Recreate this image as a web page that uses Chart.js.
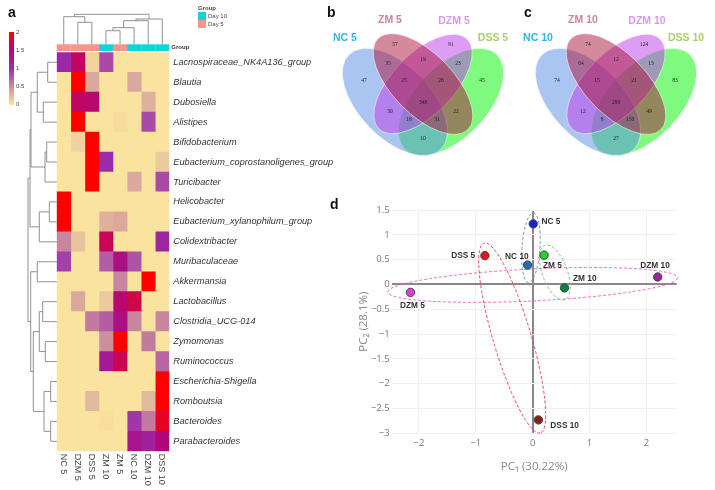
<!DOCTYPE html>
<html>
<head>
<meta charset="utf-8">
<title>Heatmap, Venn and PCA</title>
<script src="https://cdn.jsdelivr.net/npm/chart.js@4"></script>
<style>
  html, body { margin: 0; padding: 0; background: #fff; }
  #page { position: relative; width: 715px; height: 490px; overflow: hidden; background: #fff; font-family: "Liberation Sans", Arial, sans-serif; filter: blur(0.35px); }
  canvas { position: absolute; }
  .panel { position: absolute; font-weight: bold; font-size: 14px; color: #111; line-height: 14px; }
  .small { position: absolute; font-size: 6px; line-height: 6px; color: #444; }
  .swatch { position: absolute; left: 198px; width: 8px; height: 8px; }
  #colorbar { position: absolute; left: 9px; top: 32px; width: 5px; height: 73px; }
</style>
</head>
<body>
<div id="page">
  <canvas id="heat" width="345" height="490" style="left:0;top:0"></canvas>
  <canvas id="vennB" width="200" height="170" style="left:322.7px;top:0"></canvas>
  <canvas id="vennC" width="200" height="170" style="left:515.7px;top:0"></canvas>
  <canvas id="pca" width="385" height="300" style="left:330px;top:190px"></canvas>

  <div class="panel" style="left:8px;top:5px">a</div>
  <div class="panel" style="left:327px;top:5px">b</div>
  <div class="panel" style="left:524px;top:5px">c</div>
  <div class="panel" style="left:330px;top:197px">d</div>

  <div class="small" style="left:198px;top:5px;font-weight:bold">Group</div>
  <div class="swatch" style="top:12px;background:#10d5d8"></div>
  <div class="swatch" style="top:20px;background:#fa9488"></div>
  <div class="small" style="left:208px;top:13px">Day 10</div>
  <div class="small" style="left:208px;top:21px">Day 5</div>

  <div id="colorbar"></div>
  <div class="small" style="left:16px;top:29px">2</div>
  <div class="small" style="left:16px;top:47px">1.5</div>
  <div class="small" style="left:16px;top:65px">1</div>
  <div class="small" style="left:16px;top:83px">0.5</div>
  <div class="small" style="left:16px;top:101px">0</div>
</div>
<script>
// heatmap data
const samples = ['NC 5', 'DZM 5', 'DSS 5', 'ZM 10', 'ZM 5', 'NC 10', 'DZM 10', 'DSS 10'];
const sampleGroups = ['Day 5', 'Day 5', 'Day 5', 'Day 10', 'Day 5', 'Day 10', 'Day 10', 'Day 10'];
const taxa = [
    'Lacnospiraceae_NK4A136_group', 'Blautia', 'Dubosiella', 'Alistipes', 'Bifidobacterium',
    'Eubacterium_coprostanoligenes_group', 'Turicibacter', 'Helicobacter', 'Eubacterium_xylanophilum_group',
    'Colidextribacter', 'Muribaculaceae', 'Akkermansia', 'Lactobacillus', 'Clostridia_UCG-014',
    'Zymomonas', 'Ruminococcus', 'Escherichia-Shigella', 'Romboutsia', 'Bacteroides', 'Parabacteroides'
];
const heatValues = [
    [1.05, 1.6, 0.1, 0.85, 0, 0, 0, 0],
    [0, 2, 0.35, 0, 0, 0.35, 0, 0],
    [0, 1.6, 1.55, 0, 0, 0, 0.3, 0],
    [0, 2, 0, 0, 0.05, 0, 0.85, 0],
    [0, 0.1, 2, 0, 0, 0, 0, 0],
    [0, 0, 2, 1.0, 0, 0, 0, 0.15],
    [0, 0, 2, 0, 0, 0.35, 0, 0.85],
    [2, 0, 0, 0, 0, 0, 0, 0],
    [2, 0, 0, 0.3, 0.35, 0, 0, 0],
    [0.55, 0.2, 0, 1.65, 0, 0, 0, 1.1],
    [0.9, 0, 0, 0.75, 1.4, 0.8, 0, 0],
    [0, 0, 0, 0, 0.55, 0, 2, 0],
    [0, 0.35, 0, 0.15, 1.55, 1.7, 0, 0],
    [0, 0, 0.6, 0.75, 1.4, 0.55, 0, 0.55],
    [0, 0, 0, 0.5, 2, 0, 0.6, 0],
    [0, 0, 0, 1.25, 1.65, 0, 0, 0.7],
    [0, 0, 0, 0, 0, 0, 0, 2],
    [0, 0, 0.25, 0, 0, 0, 0.25, 2],
    [0, 0, 0, 0.03, 0, 0.95, 0.6, 1.85],
    [0, 0, 0, 0, 0, 1.3, 1.15, 1.5]
];
// dendrogram merges: [node, node, height in px], a node past the leaves is an earlier merge
const columnMerges = [
    [1, 2, 22], [0, 8, 27.6], [3, 4, 13.6], [10, 5, 16.6], [11, 6, 23.6], [12, 7, 25.3], [9, 13, 30]
];
const rowMerges = [
    [0, 1, 9], [2, 3, 13.4], [20, 21, 19.4], [4, 5, 10], [23, 6, 11.7], [22, 24, 25.7],
    [7, 8, 7.4], [26, 9, 17.4], [25, 27, 26.7], [10, 11, 19.4], [12, 13, 14], [14, 15, 11.4],
    [30, 31, 17.4], [16, 17, 6], [18, 19, 6], [33, 34, 12.7], [32, 35, 23.4], [29, 36, 26], [28, 37, 28.7]
];
const heatStops = [[0, '#fae39e'], [0.5, '#cc8f9c'], [1, '#9a2cac'], [1.5, '#b0087a'], [2, '#ff0000']];
const groupColors = { 'Day 5': '#fa9488', 'Day 10': '#10d5d8' };

// venn data, regions are listed in the same order for both panels
const vennCounts5 = [57, 91, 47, 45, 35, 19, 23, 25, 28, 348, 30, 22, 18, 31, 10];
const vennCounts10 = [74, 124, 74, 83, 64, 12, 13, 15, 21, 290, 12, 49, 8, 150, 27];
const vennLabels5 = ['NC 5', 'ZM 5', 'DZM 5', 'DSS 5'];
const vennLabels10 = ['NC 10', 'ZM 10', 'DZM 10', 'DSS 10'];
const vennLabelColors = ['#2fb6e8', '#c9849a', '#d898f0', '#a9cf6b'];

// pca data
const pcaNames = ['NC 5', 'ZM 5', 'NC 10', 'DSS 5', 'ZM 10', 'DZM 10', 'DZM 5', 'DSS 10'];
const pc1 = [0.01, 0.2, -0.09, -0.84, 0.56, 2.2, -2.15, 0.1];
const pc2 = [1.22, 0.59, 0.39, 0.58, -0.07, 0.15, -0.16, -2.73];
const pcaColors = ['#1022e0', '#22d422', '#2070b0', '#f01010', '#108040', '#a020a0', '#e040d0', '#8a2010'];
const pcaXTicks = [-2, -1, 0, 1, 2];
const pcaYTicks = [-3, -2.5, -2, -1.5, -1, -0.5, 0, 0.5, 1, 1.5];

function hexToRgb(hex) {
    return [1, 3, 5].map(i => parseInt(hex.slice(i, i + 2), 16));
}

function heatColor(v) {
    for (let i = 1; i < heatStops.length; i++) {
        if (v <= heatStops[i][0]) {
            const [v0, c0] = heatStops[i - 1];
            const [v1, c1] = heatStops[i];
            const t = (v - v0) / (v1 - v0);
            const a = hexToRgb(c0), b = hexToRgb(c1);
            return `rgb(${a.map((c, k) => Math.round(c + (b[k] - c) * t)).join(',')})`;
        }
    }
    return heatStops[heatStops.length - 1][1];
}

document.getElementById('colorbar').style.background =
    'linear-gradient(to top,' + heatStops.map(s => `${s[1]} ${s[0] * 50}%`).join(',') + ')';

// walks the merges and draws each bracket, leaves come from the scale
function drawDendrogram(ctx, merges, leafCount, leafPixel, bracket) {
    const pos = [];
    const height = [];
    for (let i = 0; i < leafCount; i++) {
        pos[i] = leafPixel(i);
        height[i] = 0;
    }
    merges.forEach((m, i) => {
        const [a, b, h] = m;
        bracket(pos[a], height[a], pos[b], height[b], h);
        pos[leafCount + i] = (pos[a] + pos[b]) / 2;
        height[leafCount + i] = h;
    });
}

const heatDecorations = {
    id: 'heatDecorations',
    afterDraw(chart) {
        const { ctx, chartArea } = chart;
        const x = chart.scales.x;
        const y = chart.scales.y;
        const colPixel = i => x.getPixelForValue(i + 0.5);
        const stripTop = chartArea.top - 8;
        const stripBottom = chartArea.top - 1.3;

        // group strip
        sampleGroups.forEach((g, i) => {
            ctx.fillStyle = groupColors[g];
            const l = x.getPixelForValue(i);
            ctx.fillRect(l, stripTop, x.getPixelForValue(i + 1) - l, stripBottom - stripTop);
        });

        ctx.save();
        ctx.fillStyle = '#333';
        ctx.font = 'bold 6px "Liberation Sans"';
        ctx.textBaseline = 'middle';
        ctx.fillText('Group', chartArea.right + 2, stripTop + 3.3);

        // sample labels, reading downwards
        ctx.font = '9px "Liberation Sans"';
        ctx.fillStyle = '#444';
        samples.forEach((s, i) => {
            ctx.save();
            ctx.translate(colPixel(i) - 0.5, chartArea.bottom + 2.5);
            ctx.rotate(Math.PI / 2);
            ctx.textAlign = 'left';
            ctx.fillText(s, 0, 0);
            ctx.restore();
        });

        // dendrograms
        ctx.strokeStyle = '#858585';
        ctx.lineWidth = 0.9;
        drawDendrogram(ctx, columnMerges, samples.length, colPixel, (p0, h0, p1, h1, h) => {
            ctx.beginPath();
            ctx.moveTo(p0, stripTop - h0);
            ctx.lineTo(p0, stripTop - h);
            ctx.lineTo(p1, stripTop - h);
            ctx.lineTo(p1, stripTop - h1);
            ctx.stroke();
        });
        drawDendrogram(ctx, rowMerges, taxa.length, i => y.getPixelForTick(i), (p0, h0, p1, h1, h) => {
            ctx.beginPath();
            ctx.moveTo(chartArea.left - h0, p0);
            ctx.lineTo(chartArea.left - h, p0);
            ctx.lineTo(chartArea.left - h, p1);
            ctx.lineTo(chartArea.left - h1, p1);
            ctx.stroke();
        });
        ctx.restore();
    }
};

new Chart(document.getElementById('heat').getContext('2d'), {
    type: 'bar',
    data: {
        labels: taxa,
        datasets: samples.map((s, c) => ({
            label: s,
            data: taxa.map(() => 1),
            backgroundColor: heatValues.map(row => heatColor(row[c])),
            borderWidth: 0,
            barPercentage: 1,
            categoryPercentage: 1
        }))
    },
    options: {
        indexAxis: 'y',
        responsive: false,
        animation: false,
        layout: { padding: { left: 56.7, top: 52.3 } },
        plugins: { legend: { display: false }, tooltip: { enabled: false } },
        scales: {
            x: {
                type: 'linear', stacked: true, min: 0, max: samples.length,
                grid: { display: false }, border: { display: false },
                ticks: { display: false },
                afterFit: s => { s.height = 38.7; }
            },
            y: {
                stacked: true, position: 'right',
                grid: { display: false, drawTicks: false }, border: { display: false },
                ticks: {
                    autoSkip: false, padding: 4, color: '#333',
                    font: { family: '"Liberation Sans"', size: 9.2, style: 'italic' }
                },
                afterFit: s => { s.width = 175.7; }
            }
        }
    },
    plugins: [heatDecorations]
});

// venn panels, shapes and number places are in pixels from the top middle of the panel
const vennShapes = [
    { cx: 28, cy: 102, a: 66, b: 36, angle: -46, fill: 'rgba(0,245,0,0.5)' },
    { cx: -28, cy: 102, a: 66, b: 36, angle: 46, fill: 'rgba(87,139,229,0.5)' },
    { cx: 0, cy: 84, a: 63, b: 30.5, angle: -45.5, fill: 'rgba(187,59,235,0.5)' },
    { cx: 0, cy: 84, a: 64, b: 30.5, angle: 45.5, fill: 'rgba(169,19,59,0.5)' }
];
const vennRegionX = [-28, 28, -59, 59, -35, 0, 35, -19, 18, 0, -33, 33, -14, 14, 0];
const vennRegionY = [45, 45, 81, 81, 64, 60, 64, 81, 81, 103, 112, 112, 120, 120, 139];
const vennHeaderX = [-78, -33, 31, 70];
const vennHeaderY = [38, 20, 21, 38];

const vennDecorations = {
    id: 'vennDecorations',
    beforeDatasetsDraw(chart) {
        const { ctx } = chart;
        const x = chart.scales.x;
        const y = chart.scales.y;
        vennShapes.forEach(e => {
            ctx.save();
            ctx.beginPath();
            ctx.ellipse(x.getPixelForValue(e.cx), y.getPixelForValue(e.cy), e.a, e.b, e.angle * Math.PI / 180, 0, Math.PI * 2);
            ctx.fillStyle = e.fill;
            ctx.fill();
            ctx.strokeStyle = 'rgba(255,255,255,0.8)';
            ctx.lineWidth = 0.7;
            ctx.stroke();
            ctx.restore();
        });
    },
    afterDraw(chart, args, opts) {
        const { ctx } = chart;
        const x = chart.scales.x;
        const y = chart.scales.y;
        ctx.save();
        ctx.textAlign = 'center';
        ctx.textBaseline = 'middle';
        ctx.fillStyle = '#222';
        ctx.font = '5.5px "Liberation Serif"';
        chart.data.datasets[0].data.forEach((p, i) => {
            ctx.fillText(String(opts.counts[i]), x.getPixelForValue(p.x), y.getPixelForValue(p.y));
        });
        ctx.font = 'bold 10.5px "Liberation Sans"';
        opts.labels.forEach((t, i) => {
            ctx.fillStyle = vennLabelColors[i];
            ctx.fillText(t, x.getPixelForValue(vennHeaderX[i]), y.getPixelForValue(vennHeaderY[i]));
        });
        ctx.restore();
    }
};

function drawVenn(id, counts, labels) {
    new Chart(document.getElementById(id).getContext('2d'), {
        type: 'scatter',
        data: {
            datasets: [{
                data: vennRegionX.map((vx, i) => ({ x: vx, y: vennRegionY[i] })),
                pointRadius: 0
            }]
        },
        options: {
            responsive: false,
            animation: false,
            layout: { padding: 0 },
            plugins: {
                legend: { display: false },
                tooltip: { enabled: false },
                vennDecorations: { counts: counts, labels: labels }
            },
            scales: {
                x: { type: 'linear', min: -100, max: 100, display: false },
                y: { type: 'linear', min: 0, max: 170, reverse: true, display: false }
            }
        },
        plugins: [vennDecorations]
    });
}
drawVenn('vennB', vennCounts5, vennLabels5);
drawVenn('vennC', vennCounts10, vennLabels10);

// pca ellipses: centre on the axes, half lengths in px, tilt in degrees
const pcaEllipses = [
    { cx: 0.0, cy: -0.01, a: 145, b: 16, angle: -2.8, color: '#e868c8' },
    { cx: -0.36, cy: -1.08, a: 99, b: 19, angle: 73.5, color: '#e8405a' },
    { cx: -0.03, cy: 0.74, a: 35, b: 9, angle: -86, color: '#7090c8' },
    { cx: 0.39, cy: 0.24, a: 29, b: 12.5, angle: 70, color: '#80c080' }
];
const pcaLabelDx = [17.7, 8.3, -10.7, -21.7, 20.3, -2.7, 2, 26.3];
const pcaLabelDy = [-1.7, 10.3, -8, 0.3, -9.3, -11.7, 13.7, 5.7];

const pcaDecorations = {
    id: 'pcaDecorations',
    beforeDatasetsDraw(chart) {
        const { ctx } = chart;
        const x = chart.scales.x;
        const y = chart.scales.y;
        pcaEllipses.forEach(e => {
            ctx.save();
            ctx.beginPath();
            ctx.ellipse(x.getPixelForValue(e.cx), y.getPixelForValue(e.cy), e.a, e.b, e.angle * Math.PI / 180, 0, Math.PI * 2);
            ctx.strokeStyle = e.color;
            ctx.lineWidth = 1;
            ctx.setLineDash([3, 2]);
            ctx.stroke();
            ctx.restore();
        });
    },
    afterDatasetsDraw(chart) {
        const { ctx } = chart;
        const meta = chart.getDatasetMeta(0);
        ctx.save();
        ctx.font = 'bold 8.3px "Liberation Sans"';
        ctx.fillStyle = '#333';
        ctx.textAlign = 'center';
        ctx.textBaseline = 'middle';
        pcaNames.forEach((n, i) => {
            const pt = meta.data[i];
            ctx.fillText(n, pt.x + pcaLabelDx[i], pt.y + pcaLabelDy[i]);
        });
        ctx.restore();
    }
};

const tickFont = { family: '"Open Sans"', size: 9.5 };
const titleFont = { family: '"Open Sans"', size: 11.5 };

new Chart(document.getElementById('pca').getContext('2d'), {
    type: 'scatter',
    data: {
        datasets: [{
            label: 'PCA',
            data: pc1.map((v, i) => ({ x: v, y: pc2[i] })),
            backgroundColor: pcaColors,
            borderColor: '#444',
            borderWidth: 1,
            pointRadius: 4.2
        }]
    },
    options: {
        responsive: false,
        animation: false,
        layout: { padding: { left: 27, top: 20, right: 38.3, bottom: 0 } },
        plugins: { legend: { display: false }, tooltip: { enabled: false } },
        scales: {
            x: {
                type: 'linear', min: -2.48, max: 2.534,
                afterBuildTicks: s => { s.ticks = pcaXTicks.map(v => ({ value: v })); },
                afterFit: s => { s.height = 56.7; },
                grid: {
                    color: c => c.tick && c.tick.value === 0 ? '#888' : '#f0f0f0',
                    lineWidth: c => c.tick && c.tick.value === 0 ? 2 : 1,
                    drawTicks: false
                },
                border: { display: false },
                ticks: { color: '#777', font: tickFont, padding: 4, maxRotation: 0,
                    callback: v => String(v).replace('-', '\u2212') },
                title: { display: true, text: 'PC\u2081 (30.22%)', color: '#888', font: titleFont, padding: { top: 0, bottom: 16 } }
            },
            y: {
                type: 'linear', min: -3, max: 1.5,
                afterBuildTicks: s => { s.ticks = pcaYTicks.map(v => ({ value: v })); },
                afterFit: s => { s.width = 34.7; },
                grid: {
                    color: c => c.tick && c.tick.value === 0 ? '#888' : '#f0f0f0',
                    lineWidth: c => c.tick && c.tick.value === 0 ? 2 : 1,
                    drawTicks: false
                },
                border: { display: false },
                ticks: { color: '#777', font: tickFont, padding: 2,
                    callback: v => String(v).replace('-', '\u2212') },
                title: { display: true, text: 'PC\u2082 (28.1%)', color: '#888', font: titleFont, padding: 0 }
            }
        }
    },
    plugins: [pcaDecorations]
});
</script>
</body>
</html>
